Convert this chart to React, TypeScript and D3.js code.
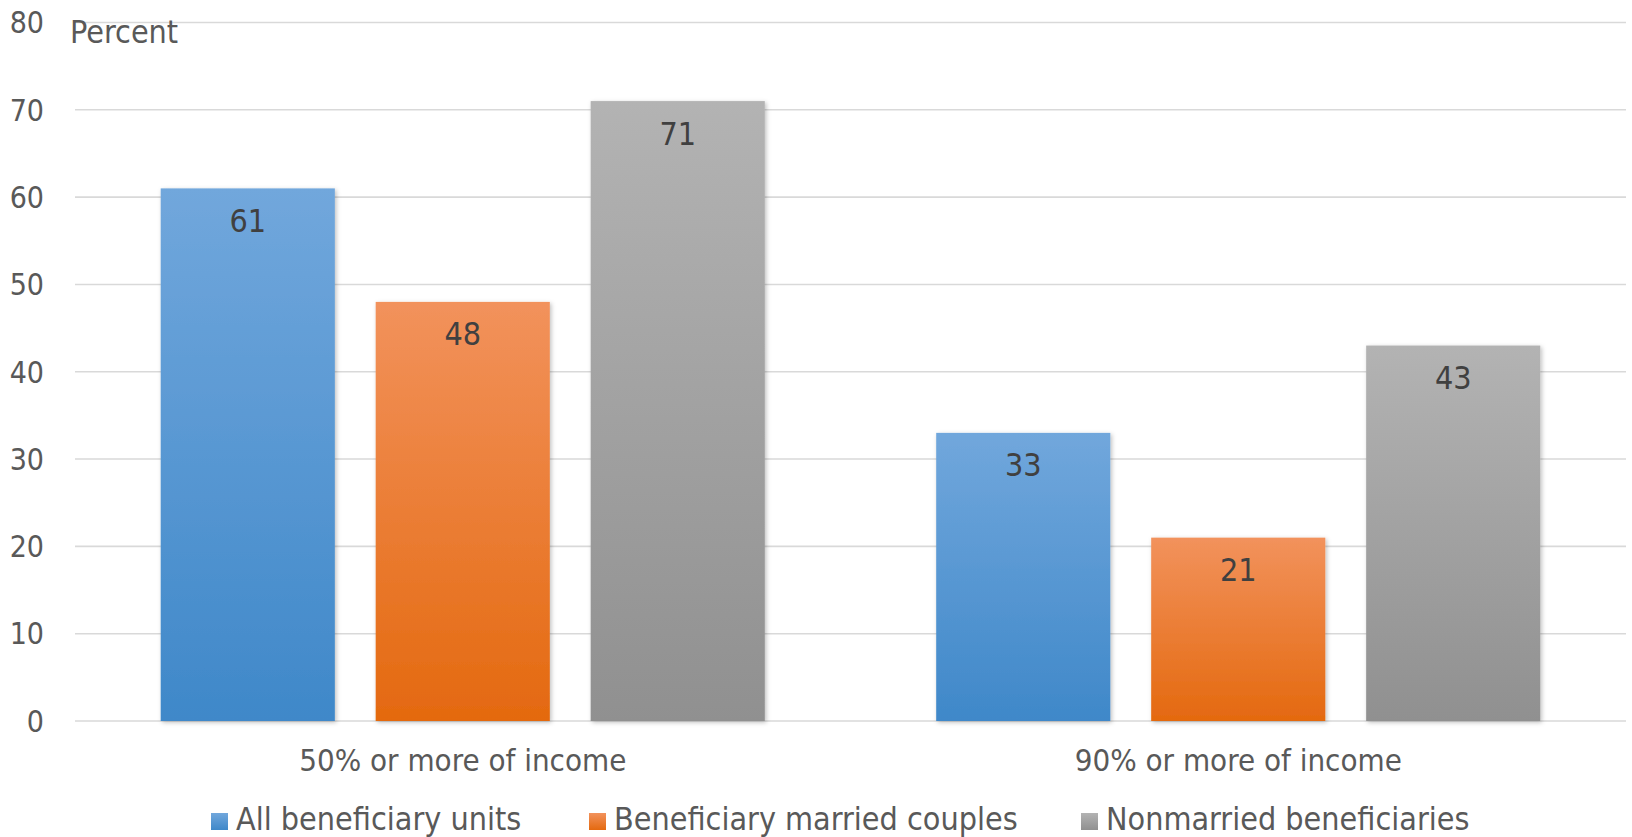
import React from "react";
import * as d3 from "d3";

const categories = ["50% or more of income", "90% or more of income"];
const seriesNames = ["All beneficiary units", "Beneficiary married couples", "Nonmarried beneficiaries"];
const allUnits = [61, 33];
const marriedCouples = [48, 21];
const nonmarried = [71, 43];
const yTicks = [0, 10, 20, 30, 40, 50, 60, 70, 80];

const seriesValues = [allUnits, marriedCouples, nonmarried];
const gradients = [
  ["#71a7dc", "#3f88c9"],
  ["#f2925c", "#e4690f"],
  ["#b3b3b3", "#909090"],
];

const W = 1632;
const H = 837;
const FONT = "'Liberation Sans Narrow', 'DejaVu Sans Condensed', 'Roboto', sans-serif";

export default function App() {
  const x0 = 75;
  const x1 = 1626;
  const y = d3.scaleLinear().domain([0, 80]).range([721, 22.5]);
  const xCat = d3.scaleBand<string>().domain(categories).range([x0, x1]).padding(0);
  const outer = 85.7;
  const xSer = d3
    .scaleBand<number>()
    .domain([0, 1, 2])
    .range([outer, xCat.bandwidth() - outer])
    .paddingInner(0.19)
    .paddingOuter(0);

  const legendX = [211, 589, 1081];

  return (
    <svg
      width={W}
      height={H}
      style={{ position: "absolute", left: 0, top: 0, background: "#fff" }}
      fontFamily={FONT}
    >
      <defs>
        {gradients.map((g, i) => (
          <linearGradient key={i} id={`g${i}`} x1="0" y1="0" x2="0" y2="1">
            <stop offset="0" stopColor={g[0]} />
            <stop offset="1" stopColor={g[1]} />
          </linearGradient>
        ))}
        <filter id="shadow" x="-10%" y="-10%" width="130%" height="130%">
          <feDropShadow dx="1.5" dy="1.5" stdDeviation="2" floodColor="#000" floodOpacity="0.25" />
        </filter>
      </defs>

      {yTicks.map((t) => (
        <g key={t}>
          <line x1={x0} x2={x1} y1={y(t)} y2={y(t)} stroke="#d9d9d9" strokeWidth={1.6} />
          <text
            x={44}
            y={y(t)}
            dy="0.36em"
            textAnchor="end"
            fontSize={30}
            fill="#595959"
          >
            {t}
          </text>
        </g>
      ))}

      <text x={70} y={43} fontSize={32} fill="#595959">
        Percent
      </text>

      {categories.map((c, ci) => (
        <g key={c} transform={`translate(${xCat(c)},0)`}>
          {seriesValues.map((vals, si) => {
            const bx = xSer(si)!;
            const bw = xSer.bandwidth();
            const top = y(vals[ci]);
            return (
              <g key={si}>
                <rect
                  x={bx}
                  y={top}
                  width={bw}
                  height={y(0) - top}
                  fill={`url(#g${si})`}
                  filter="url(#shadow)"
                />
                <text
                  x={bx + bw / 2}
                  y={top + 32}
                  dy="0.36em"
                  textAnchor="middle"
                  fontSize={32}
                  fill="#404040"
                >
                  {vals[ci]}
                </text>
              </g>
            );
          })}
          <text
            x={xCat.bandwidth() / 2}
            y={771}
            textAnchor="middle"
            fontSize={31}
            fill="#595959"
          >
            {c}
          </text>
        </g>
      ))}

      {seriesNames.map((s, i) => (
        <g key={s} transform={`translate(${legendX[i]},0)`}>
          <rect x={0} y={813} width={17} height={17} fill={`url(#g${i})`} />
          <text x={25} y={830} fontSize={32} fill="#595959">
            {s}
          </text>
        </g>
      ))}
    </svg>
  );
}
